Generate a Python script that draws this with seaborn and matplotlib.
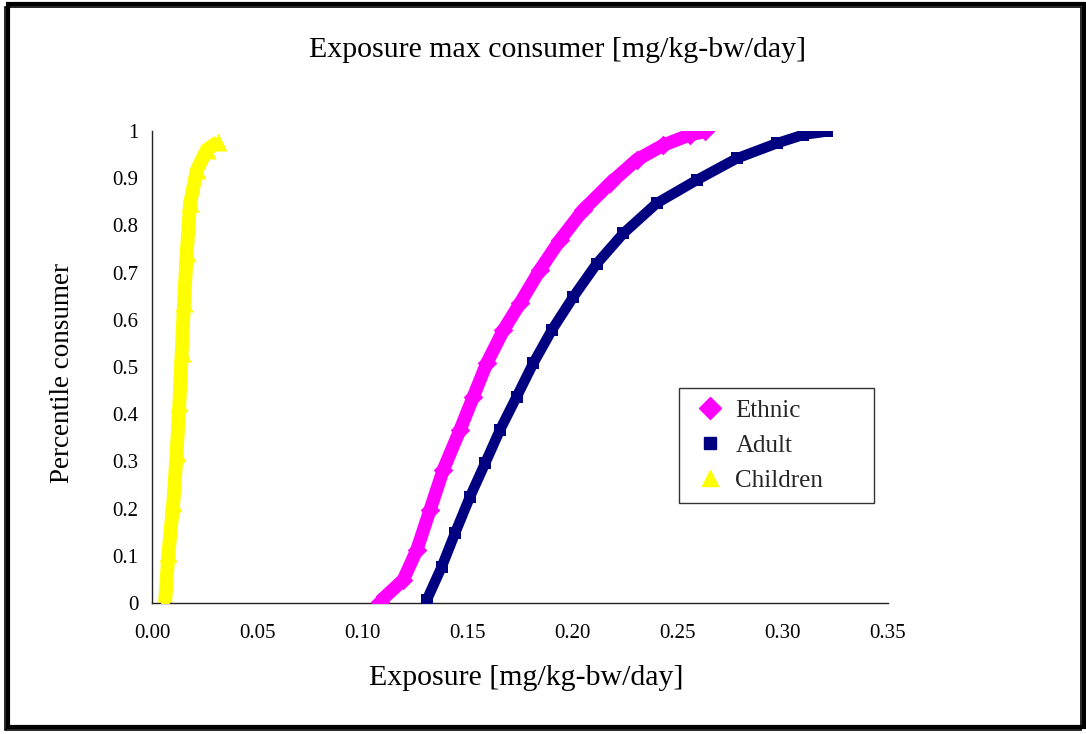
import matplotlib
matplotlib.use("Agg")
import matplotlib.pyplot as plt
from matplotlib.lines import Line2D
from matplotlib.patches import Rectangle
import seaborn as sns
import pandas as pd

# ---- data ----
ethnic_x = [0.1084, 0.1195, 0.1259, 0.1322, 0.1385, 0.1465, 0.1528, 0.1592, 0.1671,
            0.1750, 0.1845, 0.1940, 0.2051, 0.2178, 0.2305, 0.2431, 0.2558, 0.2630]
ethnic_y = [0.003, 0.049, 0.112, 0.197, 0.282, 0.367, 0.437, 0.508, 0.578,
            0.635, 0.706, 0.769, 0.833, 0.889, 0.939, 0.970, 0.992, 0.999]

adult_x = [0.1306, 0.1378, 0.1441, 0.1512, 0.1584, 0.1655, 0.1734, 0.1813, 0.1901,
           0.2004, 0.2115, 0.2241, 0.2400, 0.2590, 0.2781, 0.2971, 0.3097, 0.3209]
adult_y = [0.006, 0.077, 0.148, 0.225, 0.296, 0.367, 0.437, 0.508, 0.578,
           0.649, 0.719, 0.783, 0.847, 0.896, 0.942, 0.974, 0.992, 0.999]

children_x = [0.0062, 0.0078, 0.0101, 0.0117, 0.0130, 0.0141, 0.0152, 0.0165,
              0.0181, 0.0213, 0.0260, 0.0315]
children_y = [0.000, 0.105, 0.211, 0.317, 0.423, 0.529, 0.635, 0.741,
              0.847, 0.917, 0.960, 0.977]

series_names = ["Ethnic", "Adult", "Children"]
colors = {"Ethnic": "#FF00FF", "Adult": "#000080", "Children": "#FFFF00"}
markers = {"Ethnic": "D", "Adult": "s", "Children": "^"}

x_ticks = [0.00, 0.05, 0.10, 0.15, 0.20, 0.25, 0.30, 0.35]
y_ticks = [0, 0.1, 0.2, 0.3, 0.4, 0.5, 0.6, 0.7, 0.8, 0.9, 1]

title = "Exposure max consumer [mg/kg-bw/day]"
x_label = "Exposure [mg/kg-bw/day]"
y_label = "Percentile consumer"

# ---- build frame ----
frames = []
for name, xs, ys in [("Ethnic", ethnic_x, ethnic_y),
                     ("Adult", adult_x, adult_y),
                     ("Children", children_x, children_y)]:
    frames.append(pd.DataFrame({"x": xs, "y": ys, "series": name}))
df = pd.concat(frames, ignore_index=True)

sns.set_theme(style="white")
plt.rcParams["font.family"] = ["Liberation Serif", "DejaVu Serif"]

fig = plt.figure(figsize=(10.86, 7.34), dpi=100)
ax = fig.add_axes([0.140, 0.1785, 0.6777, 0.643])

band = {"Ethnic": 9.5, "Adult": 7.5, "Children": 10}
msize = {"Ethnic": 10, "Adult": 8, "Children": 13}
for name in series_names:
    sub = df[df["series"] == name]
    sns.lineplot(data=sub, x="x", y="y", ax=ax, color=colors[name],
                 linewidth=band[name], sort=False, legend=False,
                 estimator=None, solid_capstyle="butt")
    sns.scatterplot(data=sub, x="x", y="y", ax=ax, color=colors[name],
                    marker=markers[name], s=msize[name] ** 2, linewidth=0,
                    legend=False, zorder=3)

ax.set_xlim(0, 0.35)
ax.set_ylim(0, 1)
ax.set_xticks(x_ticks)
ax.set_xticklabels([f"{v:.2f}" for v in x_ticks])
ax.set_yticks(y_ticks)
ax.set_yticklabels([f"{v:g}" for v in y_ticks])
ax.tick_params(axis="both", which="major", direction="out", length=6, width=1,
               color="#222222", labelsize=15, labelcolor="black", pad=4)
ax.tick_params(axis="x", pad=9)
for side in ["top", "right"]:
    ax.spines[side].set_visible(False)
for side in ["left", "bottom"]:
    ax.spines[side].set_visible(True)
    ax.spines[side].set_color("#222222")
    ax.spines[side].set_linewidth(1)
ax.set_xlabel("")
ax.set_ylabel("")
ax.grid(False)

fig.text(0.513, 0.932, title, ha="center", va="center", fontsize=21.5, color="black")
fig.text(0.485, 0.076, x_label, ha="center", va="center", fontsize=21.5, color="black")
fig.text(0.058, 0.492, y_label, ha="center", va="center", rotation=90, fontsize=19.5,
         color="black")

handles = [Line2D([0], [0], linestyle="none", marker=markers[n], color=colors[n],
                  markersize=11 if n != "Adult" else 8) for n in series_names]
leg_w = 0.265
leg_h = 0.24
leg = ax.legend(handles, series_names, loc="upper left",
                bbox_to_anchor=(0.716, 0.4555 - leg_h, leg_w, leg_h), mode="expand",
                frameon=True, fancybox=False,
                edgecolor="black", fontsize=18, handlelength=1.6,
                handletextpad=0.2, borderpad=0.45, labelspacing=0.5,
                borderaxespad=0)
leg.get_frame().set_linewidth(1)

# outer border with shadow
fig.patches.append(Rectangle((0.0075, 0.0095), 0.9905, 0.985, transform=fig.transFigure,
                             fill=False, edgecolor="black", linewidth=3.0))
fig.patches.append(Rectangle((0.0048, 0.0055), 0.9905, 0.985, transform=fig.transFigure,
                             fill=False, edgecolor="black", linewidth=1.2))

fig.savefig("out.png", dpi=100, facecolor="white")
